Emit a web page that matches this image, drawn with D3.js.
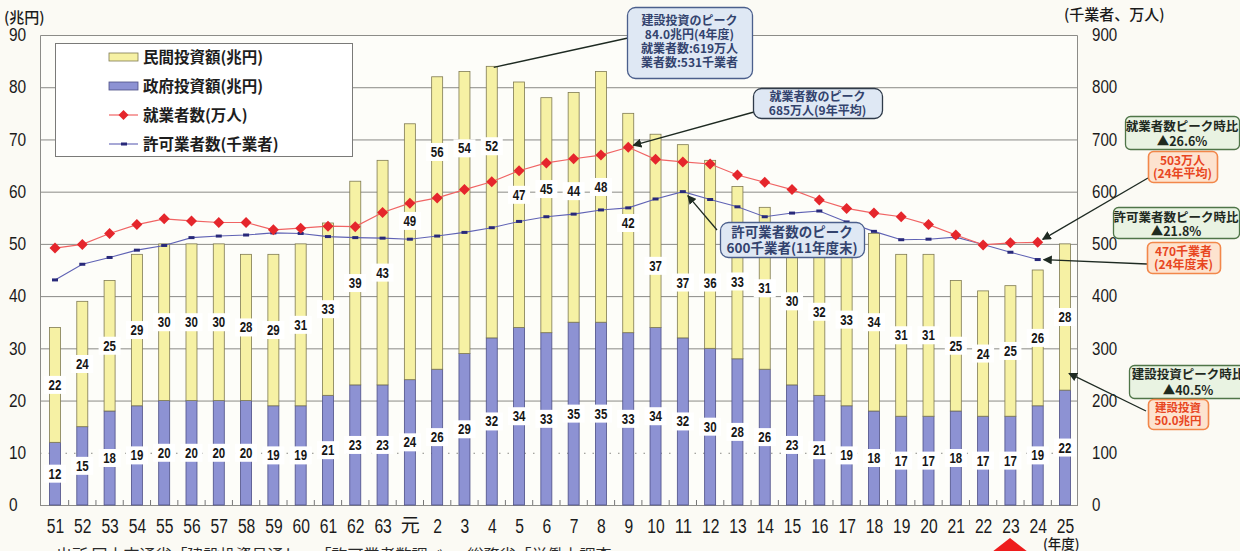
<!DOCTYPE html>
<html lang="ja">
<head>
<meta charset="utf-8">
<script src="https://cdn.jsdelivr.net/npm/d3@7"></script>
<style>
  html, body { margin: 0; padding: 0; background: #fbfaf4; }
  svg { display: block; }
  .num { font-family: "Liberation Sans Narrow", "Arial Narrow", "Liberation Sans", sans-serif; }
  .jp { font-family: "Noto Sans CJK JP", "Noto Sans", sans-serif; }
</style>
</head>
<body>
<svg id="chart" width="1240" height="551"></svg>
<script>
// 年度 (昭和51年度〜平成25年度)
const years = ["51","52","53","54","55","56","57","58","59","60","61","62","63","元",
  "2","3","4","5","6","7","8","9","10","11","12","13","14","15","16","17","18","19",
  "20","21","22","23","24","25"];

// 政府投資額 (兆円)
const govInvest = [12,15,18,19,20,20,20,20,19,19,21,23,23,24,26,29,32,34,33,35,35,33,
  34,32,30,28,26,23,21,19,18,17,17,18,17,17,19,22];

// 民間投資額 (兆円)
const privInvest = [22,24,25,29,30,30,30,28,29,31,33,39,43,49,56,54,52,47,45,44,48,42,
  37,37,36,33,31,30,32,33,34,31,31,25,24,25,26,28];

// 就業者数 (万人)
const workers = [492,499,520,537,548,544,541,541,527,530,534,533,560,578,588,604,619,
  640,655,663,670,685,662,657,653,632,618,604,584,568,559,552,537,517,498,502,503,null];

// 許可業者数 (千業者)
const contractors = [431,461,474,488,497,512,515,517,521,520,514,512,511,509,515,522,531,
  543,552,557,565,569,586,600,585,571,552,559,563,542,524,508,509,513,499,484,470,null];

// 左軸・右軸の目盛
const leftTicks = [0,10,20,30,40,50,60,70,80,90];
const rightTicks = [0,100,200,300,400,500,600,700,800,900];

// 民間投資額ラベルの縦位置調整 (兆円単位、線との重なりを避ける)
const privLabelShift = {"元":5.9,"2":13.6,"3":12.3,"4":10.7,"5":1.9,"6":5,"7":3.1,"8":1.9,
  "10":-6.7,"11":-7.9,"12":-5.4,"13":-1.7,"15":1};

const svg = d3.select("#chart");
const plot = {left: 40, right: 1077, top: 35, bottom: 505};

const x = d3.scalePoint().domain(years).range([55, 1065]);
const step = x.step();
const barW = 11;
const y = d3.scaleLinear().domain([0, 90]).range([plot.bottom, plot.top]);
const y2 = d3.scaleLinear().domain([0, 900]).range([plot.bottom, plot.top]);

const rows = years.map((yr, i) => ({
  year: yr, gov: govInvest[i], priv: privInvest[i],
  workers: workers[i], contractors: contractors[i]
}));

// condensed digits: fixed advance per character
function condense(sel, perChar) {
  sel.each(function () {
    const t = this.textContent;
    if (/^[0-9.]+$/.test(t)) {
      d3.select(this).attr("textLength", t.length * perChar).attr("lengthAdjust", "spacingAndGlyphs");
    }
  });
}

// arrowhead
const defs = svg.append("defs");
defs.append("marker").attr("id", "arrow").attr("viewBox", "0 0 10 10")
  .attr("refX", 9).attr("refY", 5).attr("markerWidth", 9).attr("markerHeight", 9)
  .attr("markerUnits", "userSpaceOnUse").attr("orient", "auto")
  .append("path").attr("d", "M0,0 L10,5 L0,10 Z").attr("fill", "#1e2a22");

// plot background
svg.append("rect").attr("x", plot.left).attr("y", plot.top)
  .attr("width", plot.right - plot.left).attr("height", plot.bottom - plot.top)
  .attr("fill", "#fdfdf9");

// gridlines
svg.append("g").selectAll("line").data(leftTicks.filter(t => t > 0 && t < 90)).join("line")
  .attr("x1", plot.left).attr("x2", plot.right)
  .attr("y1", d => y(d) + 0.5).attr("y2", d => y(d) + 0.5)
  .attr("stroke", "#8a8a86").attr("stroke-width", 1)
  .attr("stroke-dasharray", d => d === 10 ? "1.5,7" : null);

// frame
svg.append("path")
  .attr("d", `M${plot.left + 0.5},${plot.bottom} V${plot.top + 0.5} H${plot.right + 0.5} V${plot.bottom}`)
  .attr("fill", "none").attr("stroke", "#8c8c88").attr("stroke-width", 1);
svg.append("line").attr("x1", plot.left).attr("x2", plot.right + 1)
  .attr("y1", plot.bottom + 0.5).attr("y2", plot.bottom + 0.5)
  .attr("stroke", "#8c8c88").attr("stroke-width", 1.2);

// small ticks between categories
svg.append("g").selectAll("line").data(years.slice(0, -1)).join("line")
  .attr("x1", d => x(d) + step / 2).attr("x2", d => x(d) + step / 2)
  .attr("y1", plot.bottom).attr("y2", plot.bottom - 5)
  .attr("stroke", "#777").attr("stroke-width", 1);

// stacked bars
const bars = svg.append("g");
bars.selectAll("rect.gov").data(rows).join("rect").attr("class", "gov")
  .attr("x", d => x(d.year) - barW / 2).attr("width", barW)
  .attr("y", d => y(d.gov)).attr("height", d => y(0) - y(d.gov))
  .attr("fill", "#8d92d3").attr("stroke", "#4d4f86").attr("stroke-width", 0.8);
bars.selectAll("rect.priv").data(rows).join("rect").attr("class", "priv")
  .attr("x", d => x(d.year) - barW / 2).attr("width", barW)
  .attr("y", d => y(d.gov + d.priv)).attr("height", d => y(d.gov) - y(d.gov + d.priv))
  .attr("fill", "#f6f1a4").attr("stroke", "#7f7a52").attr("stroke-width", 0.8);

// value labels
function valueLabel(g, cx, cy, text) {
  g.append("rect").attr("x", cx - 11).attr("y", cy - 9).attr("width", 22).attr("height", 18)
    .attr("fill", "#ffffff");
  g.append("text").attr("class", "num").attr("x", cx).attr("y", cy).attr("dy", "0.36em")
    .attr("text-anchor", "middle").attr("font-size", 14).attr("font-weight", "bold")
    .attr("fill", "#161616").text(text)
    .call(condense, 6.4);
}
const labels = svg.append("g");
rows.forEach(d => {
  valueLabel(labels, x(d.year), y(d.gov / 2), d.gov);
  const shift = privLabelShift[d.year] || 0;
  valueLabel(labels, x(d.year), y(d.gov + d.priv / 2 + shift), d.priv);
});

// 許可業者数 line
const cData = rows.filter(d => d.contractors != null);
svg.append("path").datum(cData)
  .attr("d", d3.line().x(d => x(d.year)).y(d => y2(d.contractors)))
  .attr("fill", "none").attr("stroke", "#5f62b4").attr("stroke-width", 1.1);
svg.append("g").selectAll("rect").data(cData).join("rect")
  .attr("x", d => x(d.year) - 3).attr("y", d => y2(d.contractors) - 1.5)
  .attr("width", 6).attr("height", 3).attr("fill", "#28297a");

// 就業者数 line
const wData = rows.filter(d => d.workers != null);
svg.append("path").datum(wData)
  .attr("d", d3.line().x(d => x(d.year)).y(d => y2(d.workers)))
  .attr("fill", "none").attr("stroke", "#f06464").attr("stroke-width", 1.2);
svg.append("g").selectAll("path").data(wData).join("path")
  .attr("transform", d => `translate(${x(d.year)},${y2(d.workers)})`)
  .attr("d", "M0,-5.5 L5.5,0 L0,5.5 L-5.5,0 Z").attr("fill", "#e5262c");

// left axis
const leftAxis = svg.append("g").attr("transform", "translate(9,0)")
  .call(d3.axisRight(y).tickValues(leftTicks).tickSize(0).tickPadding(0));
leftAxis.select(".domain").remove();
leftAxis.selectAll("text").attr("class", "num").attr("font-size", 18)
  .attr("fill", "#1b1b1b").call(condense, 8.6);

// right axis
const rightAxis = svg.append("g").attr("transform", "translate(1092,0)")
  .call(d3.axisRight(y2).tickValues(rightTicks).tickSize(0).tickPadding(0));
rightAxis.select(".domain").remove();
rightAxis.selectAll("text").attr("class", "num").attr("font-size", 18)
  .attr("fill", "#1b1b1b").call(condense, 8.4);

// bottom axis
const bottomAxis = svg.append("g").attr("transform", `translate(0,${plot.bottom})`)
  .call(d3.axisBottom(x).tickSize(0).tickPadding(14));
bottomAxis.select(".domain").remove();
bottomAxis.selectAll("text").attr("class", d => d === "元" ? "jp" : "num")
  .attr("font-size", d => d === "元" ? 19 : 20).attr("fill", "#1b1b1b")
  .call(condense, 8.7);

// axis titles
svg.append("text").attr("class", "jp").attr("x", 4).attr("y", 23)
  .attr("font-size", 15).attr("font-weight", 500).attr("fill", "#1b1b1b").text("(兆円)");
svg.append("text").attr("class", "jp").attr("x", 1064).attr("y", 20)
  .attr("font-size", 15).attr("font-weight", 500).attr("fill", "#1b1b1b").text("(千業者、万人)");
svg.append("text").attr("class", "jp").attr("x", 1043).attr("y", 549)
  .attr("font-size", 13.5).attr("font-weight", 500).attr("fill", "#1b1b1b").text("(年度)");

// source note (partly below the bottom edge)
svg.append("text").attr("class", "jp").attr("x", 56).attr("y", 561)
  .attr("font-size", 16).attr("fill", "#2a2a2a")
  .text("出所 国土交通省「建設投資見通し」・「許可業者数調べ」、総務省「労働力調査」");
svg.append("path").attr("d", "M1010,538 L1028,552 L992,552 Z").attr("fill", "#ee1c1c");

// legend
const lg = svg.append("g");
lg.append("rect").attr("x", 55.5).attr("y", 43.5).attr("width", 297).attr("height", 113)
  .attr("fill", "#ffffff").attr("stroke", "#7a7a78").attr("stroke-width", 1);
const legendItems = ["民間投資額(兆円)", "政府投資額(兆円)", "就業者数(万人)", "許可業者数(千業者)"];
const legendY = [57, 86, 115, 144];
lg.append("rect").attr("x", 109).attr("y", legendY[0] - 4).attr("width", 29).attr("height", 8)
  .attr("fill", "#f6f1a4").attr("stroke", "#7f7a52").attr("stroke-width", 0.8);
lg.append("rect").attr("x", 109).attr("y", legendY[1] - 4).attr("width", 29).attr("height", 8)
  .attr("fill", "#8d92d3").attr("stroke", "#4d4f86").attr("stroke-width", 0.8);
lg.append("line").attr("x1", 109).attr("x2", 138).attr("y1", legendY[2]).attr("y2", legendY[2])
  .attr("stroke", "#f06464").attr("stroke-width", 1.2);
lg.append("path").attr("transform", `translate(123.5,${legendY[2]})`)
  .attr("d", "M0,-5 L5,0 L0,5 L-5,0 Z").attr("fill", "#e5262c");
lg.append("line").attr("x1", 109).attr("x2", 138).attr("y1", legendY[3]).attr("y2", legendY[3])
  .attr("stroke", "#5f62b4").attr("stroke-width", 1.1);
lg.append("rect").attr("x", 121).attr("y", legendY[3] - 1.5).attr("width", 6).attr("height", 3)
  .attr("fill", "#28297a");
lg.selectAll("text").data(legendItems).join("text").attr("class", "jp")
  .attr("x", 143).attr("y", (d, i) => legendY[i]).attr("dy", "0.36em")
  .attr("font-size", 15.5).attr("font-weight", 700).attr("fill", "#1d1d1d").text(d => d);

// callout boxes
function callout(box, lines, style) {
  const g = svg.append("g");
  g.append("rect").attr("x", box.x + 0.5).attr("y", box.y + 0.5)
    .attr("width", box.w).attr("height", box.h).attr("rx", style.rx).attr("ry", style.rx)
    .attr("fill", style.fill).attr("stroke", style.stroke).attr("stroke-width", style.sw || 1.3);
  lines.forEach((t, i) => {
    g.append("text").attr("class", "jp").attr("x", box.x + box.w / 2)
      .attr("y", box.y + style.first + i * style.lh).attr("dy", "0.36em")
      .attr("text-anchor", "middle").attr("font-size", style.fs).attr("font-weight", 700)
      .attr("fill", style.color).text(t);
  });
}
function leader(x1, y1, x2, y2, arrow) {
  svg.append("line").attr("x1", x1).attr("y1", y1).attr("x2", x2).attr("y2", y2)
    .attr("stroke", "#1e2a22").attr("stroke-width", 1.3)
    .attr("marker-end", arrow ? "url(#arrow)" : null);
}

const blueStyle = {rx: 8, fill: "#dfe8f4", stroke: "#4b5f8c", color: "#33436e", fs: 12, lh: 14};
const greenStyle = {rx: 5, fill: "#e9f3e2", stroke: "#4f7548", color: "#1f2a1f", fs: 12.5, lh: 15};
const orangeStyle = {rx: 5, fill: "#fde3cf", stroke: "#f2874a", color: "#e8461f", fs: 12, lh: 13.5, sw: 1.6};

// 建設投資のピーク (4年度)
leader(x("4") + 2, y(84) + 1, 628, 38, false);
callout({x: 627, y: 7, w: 125, h: 71}, ["建設投資のピーク", "84.0兆円(4年度)", "就業者数:619万人", "業者数:531千業者"],
  Object.assign({}, blueStyle, {first: 14}));

// 就業者数のピーク (9年)
leader(754, 112, x("9") + 5, y2(685) - 2, true);
callout({x: 753, y: 88, w: 129, h: 30}, ["就業者数のピーク", "685万人(9年平均)"],
  Object.assign({}, blueStyle, {first: 9, lh: 14, stroke: "#2f3b4a"}));

// 許可業者数のピーク (11年度末)
leader(717, 230, x("11") + 5, y2(600) + 4, true);
callout({x: 720, y: 222, w: 144, h: 35}, ["許可業者数のピーク", "600千業者(11年度末)"],
  Object.assign({}, blueStyle, {first: 10, lh: 16, fs: 13.5}));

// 就業者数 24年
leader(1148, 178, x("24") + 5, y2(503) - 3, true);
callout({x: 1125, y: 116, w: 114, h: 33}, ["就業者数ピーク時比", "▲26.6%"],
  Object.assign({}, greenStyle, {first: 10}));
callout({x: 1148, y: 151, w: 69, h: 31}, ["503万人", "(24年平均)"],
  Object.assign({}, orangeStyle, {first: 9.5, lh: 13.5}));

// 許可業者数 24年度末
leader(1147, 264, x("24") + 6, y2(470), true);
callout({x: 1113, y: 207, w: 126, h: 31}, ["許可業者数ピーク時比", "▲21.8%"],
  Object.assign({}, greenStyle, {first: 10, lh: 14}));
callout({x: 1147, y: 242, w: 73, h: 31}, ["470千業者", "(24年度末)"],
  Object.assign({}, orangeStyle, {first: 9.5, lh: 13.5}));

// 建設投資 25年度
leader(1146, 411, x("25") + 4, y(25) - 1, true);
callout({x: 1129, y: 365, w: 118, h: 33}, ["建設投資ピーク時比", "▲40.5%"],
  Object.assign({}, greenStyle, {first: 9.5, lh: 16}));
callout({x: 1148, y: 399, w: 60, h: 30}, ["建設投資", "50.0兆円"],
  Object.assign({}, orangeStyle, {first: 9, lh: 12.5, fs: 11.5}));
</script>
</body>
</html>
